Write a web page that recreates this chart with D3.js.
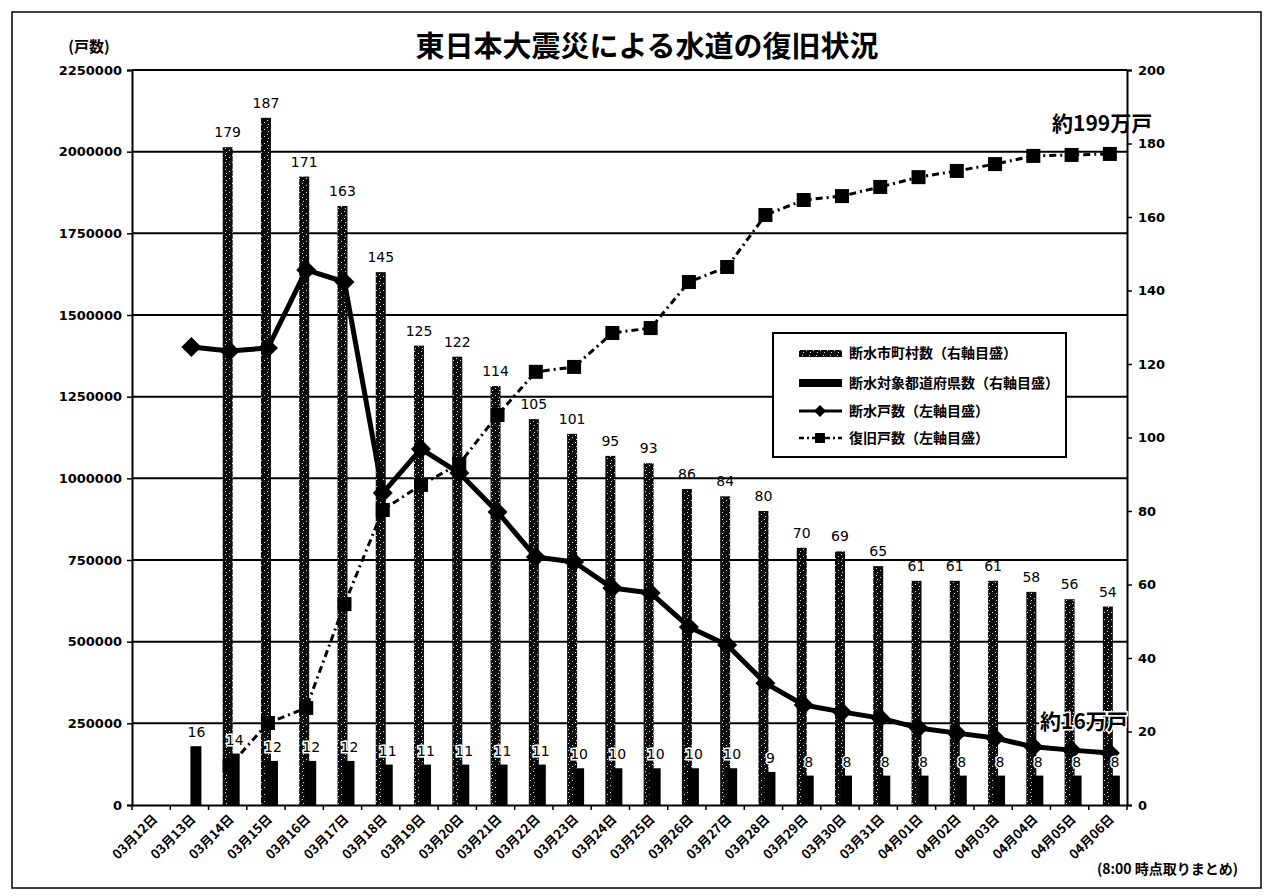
<!DOCTYPE html>
<html>
<head>
<meta charset="utf-8">
<script src="https://cdn.jsdelivr.net/npm/d3@7"></script>
<style>
  body { margin: 0; background: #fff; }
  text { font-family: "DejaVu Sans", sans-serif; }
  .jp { font-family: "Noto Sans CJK JP", sans-serif; }
</style>
</head>
<body>
<script>
// dates on the category axis
const dates = ["03月12日","03月13日","03月14日","03月15日","03月16日","03月17日","03月18日","03月19日",
  "03月20日","03月21日","03月22日","03月23日","03月24日","03月25日","03月26日","03月27日","03月28日",
  "03月29日","03月30日","03月31日","04月01日","04月02日","04月03日","04月04日","04月05日","04月06日"];

// 断水市町村数 (right axis)
const municipalities = [null, null, 179, 187, 171, 163, 145, 125, 122, 114, 105, 101, 95, 93,
  86, 84, 80, 70, 69, 65, 61, 61, 61, 58, 56, 54];

// 断水対象都道府県数 (right axis)
const prefectures = [null, 16, 14, 12, 12, 12, 11, 11, 11, 11, 11, 10, 10, 10, 10, 10, 9,
  8, 8, 8, 8, 8, 8, 8, 8, 8];

// 断水戸数 (left axis)
const outageHouses = [null, 1402000, 1390000, 1399000, 1638000, 1601000, 955000, 1090000,
  1016000, 897000, 759000, 744000, 664000, 649000, 545000, 490000, 373000, 306000, 285000,
  266000, 236000, 220000, 205000, 178000, 168000, 159000];

// 復旧戸数 (left axis)
const restoredHouses = [null, null, 120000, 251000, 297000, 615000, 903000, 980000, 1044000,
  1194000, 1326000, 1341000, 1445000, 1460000, 1601000, 1647000, 1806000, 1852000, 1864000,
  1892000, 1922000, 1941000, 1962000, 1987000, 1990000, 1993000];

const leftTicks = [0, 250000, 500000, 750000, 1000000, 1250000, 1500000, 1750000, 2000000, 2250000];
const rightTicks = [0, 20, 40, 60, 80, 100, 120, 140, 160, 180, 200];

const legendItems = ["断水市町村数（右軸目盛）", "断水対象都道府県数（右軸目盛）", "断水戸数（左軸目盛）", "復旧戸数（左軸目盛）"];

const W = 1271, H = 896;
const plotL = 132, plotR = 1127, plotT = 70, plotB = 805;

const svg = d3.select("body").append("svg")
  .attr("width", W)
  .attr("height", H);

// speckled fill for the municipality bars (scanned look)
const defs = svg.append("defs");
const pat = defs.append("pattern")
  .attr("id", "speckle")
  .attr("patternUnits", "userSpaceOnUse")
  .attr("width", 7).attr("height", 7);
pat.append("rect").attr("width", 7).attr("height", 7).attr("fill", "#0b0b0b");
[[1,1],[5,3],[2,5]].forEach(p => {
  pat.append("rect").attr("x", p[0]).attr("y", p[1]).attr("width", 1).attr("height", 1).attr("fill", "#e0e0e0");
});

const x = d3.scaleBand().domain(dates).range([plotL, plotR]);
const yL = d3.scaleLinear().domain([0, 2250000]).range([plotB, plotT]);
const yR = d3.scaleLinear().domain([0, 200]).range([plotB, plotT]);
const cx = d => x(d) + x.bandwidth() / 2;

// outer frame
svg.append("rect")
  .attr("x", 12).attr("y", 12)
  .attr("width", 1249).attr("height", 876)
  .attr("fill", "none").attr("stroke", "#000").attr("stroke-width", 1.5);

// title
svg.append("text")
  .attr("class", "jp")
  .attr("x", 647).attr("y", 57)
  .attr("text-anchor", "middle")
  .style("font-size", "29px").style("font-weight", 700)
  .text("東日本大震災による水道の復旧状況");

svg.append("text")
  .attr("class", "jp")
  .attr("x", 89).attr("y", 52)
  .attr("text-anchor", "middle")
  .style("font-size", "15px").style("font-weight", 700)
  .text("(戸数)");

// gridlines (left axis)
svg.append("g").selectAll("line")
  .data(leftTicks.filter(d => d > 0))
  .join("line")
  .attr("x1", plotL).attr("x2", plotR)
  .attr("y1", d => yL(d)).attr("y2", d => yL(d))
  .attr("stroke", "#000").attr("stroke-width", 2);

// left axis
const gl = svg.append("g")
  .attr("transform", `translate(${plotL},0)`)
  .call(d3.axisLeft(yL).tickValues(leftTicks).tickFormat(d3.format("d")).tickSize(5).tickPadding(5));
gl.selectAll("text").style("font-size", "13px").style("font-weight", "bold").attr("fill", "#000");

// right axis
const gr = svg.append("g")
  .attr("transform", `translate(${plotR},0)`)
  .call(d3.axisRight(yR).tickValues(rightTicks).tickSize(5).tickPadding(6));
gr.selectAll("text").style("font-size", "13px").style("font-weight", "bold").attr("fill", "#000");

[gl, gr].forEach(g => {
  g.select(".domain").attr("stroke-width", 2);
  g.selectAll(".tick line").attr("stroke-width", 1.5);
});

// bars
const rows = dates.map((d, i) => ({
  date: d, muni: municipalities[i], pref: prefectures[i],
  outage: outageHouses[i], restored: restoredHouses[i]
}));

svg.append("g").selectAll("rect")
  .data(rows.filter(r => r.muni != null))
  .join("rect")
  .attr("x", r => cx(r.date) - 5)
  .attr("width", 10)
  .attr("y", r => yR(r.muni))
  .attr("height", r => plotB - yR(r.muni))
  .attr("fill", "url(#speckle)");

svg.append("g").selectAll("rect")
  .data(rows.filter(r => r.pref != null))
  .join("rect")
  .attr("x", r => cx(r.date) + 1)
  .attr("width", 11)
  .attr("y", r => yR(r.pref))
  .attr("height", r => plotB - yR(r.pref))
  .attr("fill", "#000");

// bottom axis
const gx = svg.append("g")
  .attr("transform", `translate(0,${plotB})`)
  .call(d3.axisBottom(x).tickSize(0).tickPadding(0));
gx.select(".domain").attr("stroke-width", 2);
gx.selectAll(".tick text")
  .attr("class", "jp")
  .attr("text-anchor", "end")
  .attr("dy", 0)
  .attr("transform", "translate(7,15) rotate(-45)")
  .style("font-size", "13px").style("font-weight", "bold").attr("fill", "#000");
svg.append("g").selectAll("line")
  .data(d3.range(dates.length + 1))
  .join("line")
  .attr("x1", i => plotL + i * x.step()).attr("x2", i => plotL + i * x.step())
  .attr("y1", plotB).attr("y2", plotB + 5)
  .attr("stroke", "#000").attr("stroke-width", 1.5);

// top border
svg.append("line")
  .attr("x1", plotL).attr("x2", plotR).attr("y1", plotT).attr("y2", plotT)
  .attr("stroke", "#000").attr("stroke-width", 2);

// lines
const lineOut = d3.line().defined(r => r.outage != null)
  .x(r => cx(r.date) + 2).y(r => yL(r.outage));
const lineRes = d3.line().defined(r => r.restored != null)
  .x(r => cx(r.date) + 2).y(r => yL(r.restored));

svg.append("path").datum(rows)
  .attr("d", lineRes).attr("fill", "none")
  .attr("stroke", "#000").attr("stroke-width", 3).attr("stroke-dasharray", "7,4,2,4");

svg.append("g").selectAll("rect")
  .data(rows.filter(r => r.restored != null))
  .join("rect")
  .attr("x", r => cx(r.date) + 2 - 7).attr("y", r => yL(r.restored) - 7)
  .attr("width", 14).attr("height", 14).attr("fill", "#000");

svg.append("path").datum(rows)
  .attr("d", lineOut).attr("fill", "none")
  .attr("stroke", "#000").attr("stroke-width", 5).attr("stroke-linejoin", "round");

const diamond = "M0,-10L10,0L0,10L-10,0Z";
svg.append("g").selectAll("path")
  .data(rows.filter(r => r.outage != null))
  .join("path")
  .attr("d", diamond)
  .attr("transform", r => `translate(${cx(r.date) + 2},${yL(r.outage)})`)
  .attr("fill", "#000");

// data labels
svg.append("g").selectAll("text")
  .data(rows.filter(r => r.muni != null))
  .join("text")
  .attr("x", r => cx(r.date))
  .attr("y", r => yR(r.muni) - 10)
  .attr("text-anchor", "middle")
  .style("font-size", "14px")
  .text(r => r.muni);

svg.append("g").selectAll("text")
  .data(rows.filter(r => r.pref != null))
  .join("text")
  .attr("x", r => cx(r.date) + 7)
  .attr("y", r => yR(r.pref) - 9)
  .attr("text-anchor", "middle")
  .style("font-size", "14px")
  .attr("stroke", "#fff").attr("stroke-width", 3).attr("paint-order", "stroke")
  .text(r => r.pref);

// legend
const lg = svg.append("g").attr("transform", "translate(773,333)");
lg.append("rect").attr("width", 293).attr("height", 124)
  .attr("fill", "#fff").attr("stroke", "#000").attr("stroke-width", 2);
const rowY = [20, 50, 78, 105];
lg.append("rect").attr("x", 26).attr("y", rowY[0] - 3).attr("width", 43).attr("height", 7).attr("fill", "url(#speckle)");
lg.append("rect").attr("x", 26).attr("y", rowY[1] - 4).attr("width", 43).attr("height", 8).attr("fill", "#000");
lg.append("line").attr("x1", 26).attr("x2", 69).attr("y1", rowY[2]).attr("y2", rowY[2])
  .attr("stroke", "#000").attr("stroke-width", 3);
lg.append("path").attr("d", "M0,-6L6,0L0,6L-6,0Z").attr("transform", `translate(47,${rowY[2]})`);
lg.append("line").attr("x1", 26).attr("x2", 69).attr("y1", rowY[3]).attr("y2", rowY[3])
  .attr("stroke", "#000").attr("stroke-width", 2.5).attr("stroke-dasharray", "5,3,2,3");
lg.append("rect").attr("x", 42).attr("y", rowY[3] - 5).attr("width", 10).attr("height", 10);
lg.selectAll("text.lab")
  .data(legendItems)
  .join("text")
  .attr("class", "jp lab")
  .attr("x", 76)
  .attr("y", (d, i) => rowY[i] + 5)
  .style("font-size", "14px").style("font-weight", "bold")
  .text(d => d);

// annotations
svg.append("text").attr("class", "jp")
  .attr("x", 1052).attr("y", 131)
  .style("font-size", "21px").style("font-weight", "bold")
  .text("約199万戸");
svg.append("text").attr("class", "jp")
  .attr("x", 1040).attr("y", 729)
  .style("font-size", "21px").style("font-weight", "bold")
  .attr("stroke", "#fff").attr("stroke-width", 3).attr("paint-order", "stroke")
  .text("約16万戸");

svg.append("text").attr("class", "jp")
  .attr("x", 1238).attr("y", 874)
  .attr("text-anchor", "end")
  .style("font-size", "14px").style("font-weight", "bold")
  .text("(8:00 時点取りまとめ)");
</script>
</body>
</html>
